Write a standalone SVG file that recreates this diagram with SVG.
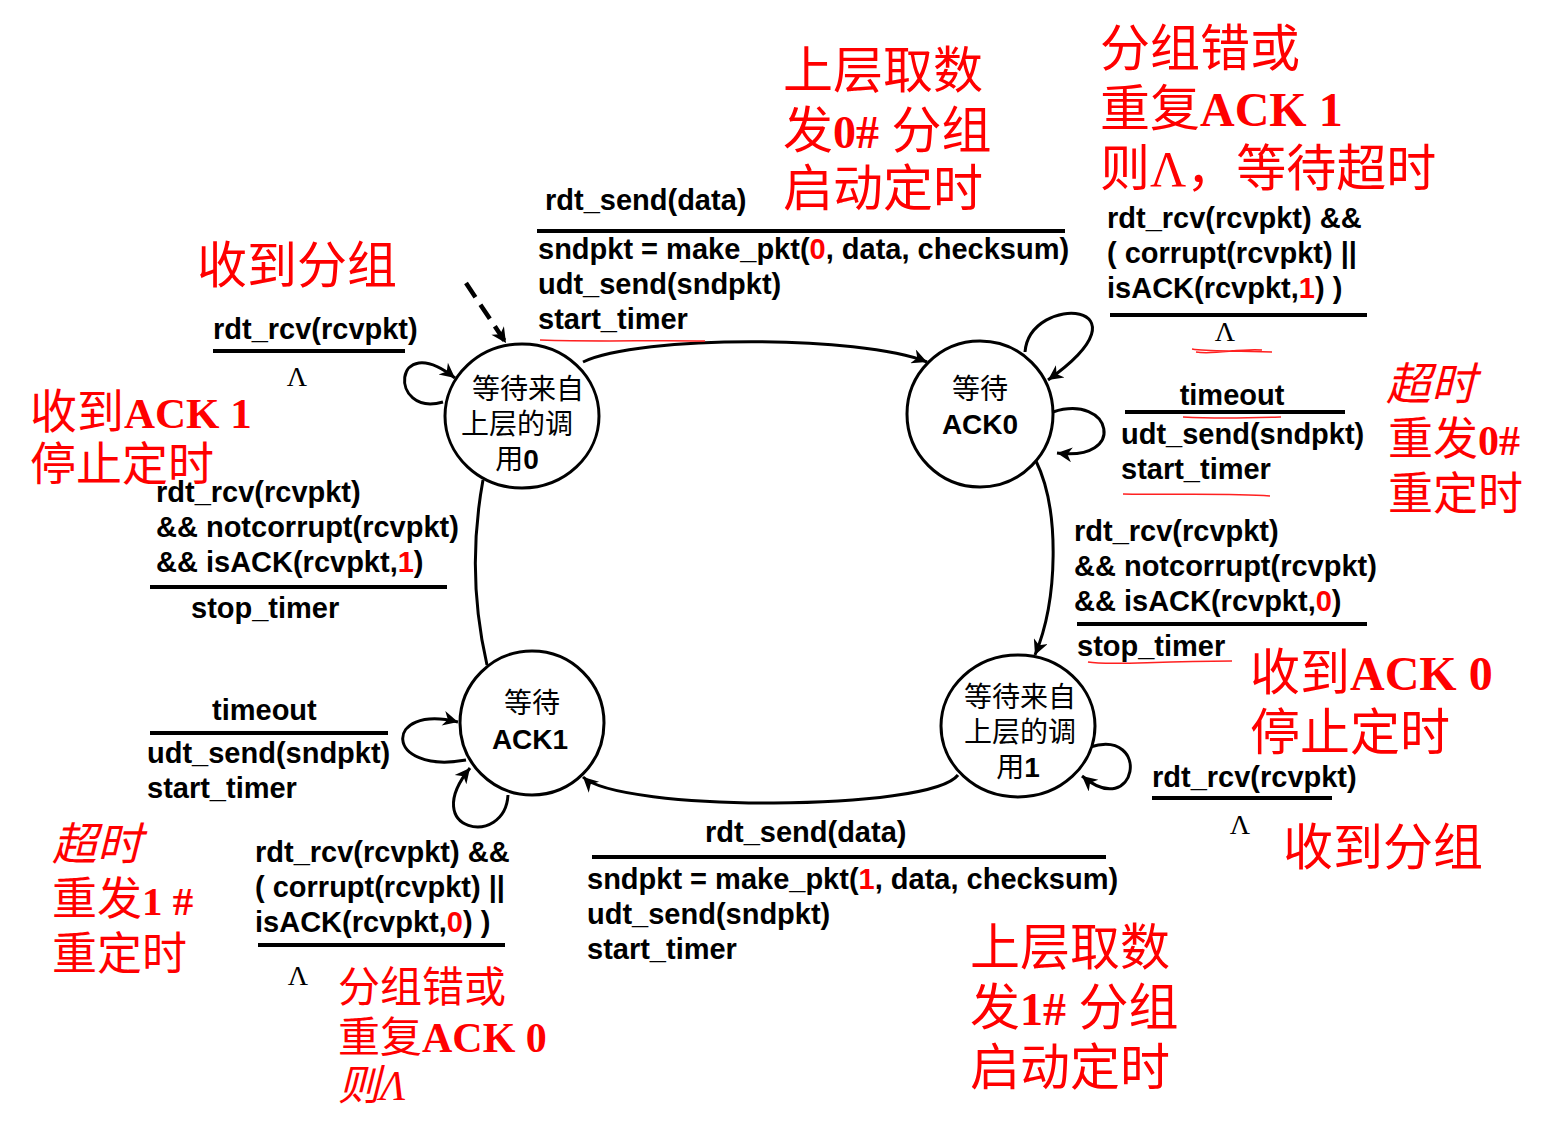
<svg xmlns="http://www.w3.org/2000/svg" width="1551" height="1136" viewBox="0 0 1551 1136">
<style>
.b{font-family:"Liberation Sans",Arial,"Noto Sans CJK SC",sans-serif;font-weight:bold;font-size:29px;fill:#000}
.r{fill:#FF0000}
.red{font-family:"Liberation Serif","Noto Sans CJK SC",serif;fill:#FF0000}
.s50{font-size:50px}
.s46{font-size:46px}
.s45{font-size:45px}
.s42{font-size:42px}
.rb{font-weight:bold}
.it{font-style:italic}
.n{font-family:"Liberation Sans","Noto Sans CJK SC",sans-serif;font-size:28px;fill:#000;text-anchor:middle}
.cj{font-family:"Noto Sans CJK SC",sans-serif;font-weight:normal}
.lam{font-family:"Liberation Serif",serif;font-size:28px;fill:#000;text-anchor:middle}
.st{fill:#fff;stroke:#000;stroke-width:3}
.e{fill:none;stroke:#000;stroke-width:3}
.dash{fill:none;stroke:#000;stroke-width:4.5;stroke-dasharray:17,9}
.bar{stroke:#000;stroke-width:4}
.ul{fill:none;stroke:#FF2020;stroke-width:1.5}
</style>
<defs>
<marker id="arr" viewBox="0 0 10 10" refX="10" refY="5" markerWidth="20" markerHeight="15" markerUnits="userSpaceOnUse" orient="auto"><path d="M0,0 L10,5 L0,10 L3,5 z" fill="#000"/></marker>
</defs>

<g id="connectors">
<path class="dash" d="M466,283 L506,343" marker-end="url(#arr)"/>
<path class="e" d="M583,362 C640,335 860,335 927,362" marker-end="url(#arr)"/>
<path class="e" d="M1036,461 C1060,510 1058,600 1035,655" marker-end="url(#arr)"/>
<path class="e" d="M958,775 C930,812 620,812 583,777" marker-end="url(#arr)"/>
<path class="e" d="M487,665 C472,600 472,540 483,480"/>
<path class="e" d="M443,402 C388,418 392,328 455,378" marker-end="url(#arr)"/>
<path class="e" d="M1025,352 C1030,292 1158,302 1048,380" marker-end="url(#arr)"/>
<path class="e" d="M1053,412 C1112,393 1128,462 1057,453" marker-end="url(#arr)"/>
<path class="e" d="M466,760 C383,775 383,703 458,722" marker-end="url(#arr)"/>
<path class="e" d="M508,795 C505,848 418,832 470,768" marker-end="url(#arr)"/>
<path class="e" d="M1090,747 C1152,728 1137,822 1082,776" marker-end="url(#arr)"/>
</g>

<g id="wait0">
<ellipse class="st" cx="522" cy="416" rx="77" ry="72"/>
<text class="n cj" x="528" y="399">等待来自</text>
<text class="n cj" x="517" y="434">上层的调</text>
<text class="n" x="517" y="469"><tspan class="cj">用</tspan><tspan font-weight="bold">0</tspan></text>
</g>
<g id="ack0">
<circle class="st" cx="980" cy="414" r="73"/>
<text class="n cj" x="980" y="399">等待</text>
<text class="n" x="980" y="434" font-weight="bold">ACK0</text>
</g>
<g id="ack1">
<circle class="st" cx="532" cy="723" r="72"/>
<text class="n cj" x="532" y="713">等待</text>
<text class="n" x="530" y="749" font-weight="bold">ACK1</text>
</g>
<g id="wait1">
<ellipse class="st" cx="1018" cy="726" rx="77" ry="71"/>
<text class="n cj" x="1020" y="707">等待来自</text>
<text class="n cj" x="1020" y="742">上层的调</text>
<text class="n" x="1018" y="777"><tspan class="cj">用</tspan><tspan font-weight="bold">1</tspan></text>
</g>

<g id="labels">
<!-- top transition -->
<text class="b" x="545" y="210">rdt_send(data)</text>
<line class="bar" x1="537" y1="231" x2="1065" y2="231"/>
<text class="b" x="538" y="259">sndpkt = make_pkt(<tspan class="r">0</tspan>, data, checksum)</text>
<text class="b" x="538" y="294">udt_send(sndpkt)</text>
<text class="b" x="538" y="329">start_timer</text>
<path class="ul" d="M540,340 C600,342 650,340 705,341" stroke="#F07070"/>
<text class="red s50" x="783" y="88">上层取数</text>
<text class="red s50" x="783" y="148">发<tspan class="rb" style="font-size:46px">0#</tspan> 分组</text>
<text class="red s50" x="783" y="206">启动定时</text>

<!-- ack0 corrupt loop -->
<text class="red s50" x="1100" y="66">分组错或</text>
<text class="red s50" x="1100" y="126">重复<tspan class="rb" style="font-size:48px">ACK 1</tspan></text>
<text class="red s50" x="1100" y="186">则Λ，等待超时</text>
<text class="b" x="1107" y="228">rdt_rcv(rcvpkt) &amp;&amp;</text>
<text class="b" x="1107" y="263">( corrupt(rcvpkt) ||</text>
<text class="b" x="1107" y="298">isACK(rcvpkt,<tspan class="r">1</tspan>) )</text>
<line class="bar" x1="1110" y1="315" x2="1367" y2="315"/>
<text class="lam" x="1225" y="341">Λ</text>
<path class="ul" d="M1192,349 C1210,352 1230,350 1272,352 M1196,352 C1215,355 1240,348 1262,350" stroke-width="2"/>

<!-- ack0 timeout -->
<text class="b" x="1232" y="405" text-anchor="middle">timeout</text>
<line class="bar" x1="1125" y1="412" x2="1345" y2="412"/>
<path class="ul" d="M1183,417 C1220,419 1250,418 1281,417"/>
<text class="b" x="1121" y="444">udt_send(sndpkt)</text>
<text class="b" x="1121" y="479">start_timer</text>
<path class="ul" d="M1123,494 C1180,495 1230,493 1270,496"/>
<text class="red it s45" x="1386" y="400">超时</text>
<text class="red s45" x="1388" y="455">重发<tspan class="rb" style="font-size:42px">0#</tspan></text>
<text class="red s45" x="1388" y="510">重定时</text>

<!-- ack0 -> wait1 -->
<text class="b" x="1074" y="541">rdt_rcv(rcvpkt)</text>
<text class="b" x="1074" y="576">&amp;&amp; notcorrupt(rcvpkt)</text>
<text class="b" x="1074" y="611">&amp;&amp; isACK(rcvpkt,<tspan class="r">0</tspan>)</text>
<line class="bar" x1="1077" y1="624" x2="1367" y2="624"/>
<text class="b" x="1077" y="656">stop_timer</text>
<path class="ul" d="M1088,662 C1110,666 1150,661 1232,661"/>
<text class="red s50" x="1250" y="690">收到<tspan class="rb" style="font-size:48px">ACK 0</tspan></text>
<text class="red s50" x="1250" y="750">停止定时</text>

<!-- wait1 loop -->
<text class="b" x="1152" y="787">rdt_rcv(rcvpkt)</text>
<line class="bar" x1="1152" y1="798" x2="1332" y2="798"/>
<text class="lam" x="1240" y="834">Λ</text>
<text class="red s50" x="1283" y="865">收到分组</text>

<!-- bottom transition -->
<text class="b" x="705" y="842">rdt_send(data)</text>
<line class="bar" x1="592" y1="857" x2="1106" y2="857"/>
<text class="b" x="587" y="889">sndpkt = make_pkt(<tspan class="r">1</tspan>, data, checksum)</text>
<text class="b" x="587" y="924">udt_send(sndpkt)</text>
<text class="b" x="587" y="959">start_timer</text>
<text class="red s50" x="970" y="965">上层取数</text>
<text class="red s50" x="970" y="1025">发<tspan class="rb" style="font-size:46px">1#</tspan> 分组</text>
<text class="red s50" x="970" y="1085">启动定时</text>

<!-- ack1 corrupt loop -->
<text class="b" x="255" y="862">rdt_rcv(rcvpkt) &amp;&amp;</text>
<text class="b" x="255" y="897">( corrupt(rcvpkt) ||</text>
<text class="b" x="255" y="932">isACK(rcvpkt,<tspan class="r">0</tspan>) )</text>
<line class="bar" x1="258" y1="945" x2="505" y2="945"/>
<text class="lam" x="298" y="985">Λ</text>
<text class="red s42" x="338" y="1002">分组错或</text>
<text class="red s42" x="338" y="1052">重复<tspan class="rb">ACK 0</tspan></text>
<text class="red it s42" x="338" y="1100">则Λ</text>

<!-- ack1 timeout -->
<text class="red it s45" x="52" y="860">超时</text>
<text class="red s45" x="52" y="915">重发<tspan class="rb" style="font-size:41px">1 #</tspan></text>
<text class="red s45" x="52" y="970">重定时</text>
<text class="b" x="212" y="720">timeout</text>
<line class="bar" x1="150" y1="733" x2="388" y2="733"/>
<text class="b" x="147" y="763">udt_send(sndpkt)</text>
<text class="b" x="147" y="798">start_timer</text>

<!-- ack1 -> wait0 -->
<text class="b" x="156" y="502">rdt_rcv(rcvpkt)</text>
<text class="b" x="156" y="537">&amp;&amp; notcorrupt(rcvpkt)</text>
<text class="b" x="156" y="572">&amp;&amp; isACK(rcvpkt,<tspan class="r">1</tspan>)</text>
<line class="bar" x1="150" y1="587" x2="447" y2="587"/>
<text class="b" x="191" y="618">stop_timer</text>
<text class="red" x="30" y="428" style="font-size:47px">收到<tspan class="rb" style="font-size:43px">ACK 1</tspan></text>
<text class="red s46" x="30" y="480">停止定时</text>

<!-- wait0 loop -->
<text class="red s50" x="197" y="283">收到分组</text>
<text class="b" x="213" y="339">rdt_rcv(rcvpkt)</text>
<line class="bar" x1="213" y1="351" x2="405" y2="351"/>
<text class="lam" x="297" y="386">Λ</text>
</g>
</svg>
